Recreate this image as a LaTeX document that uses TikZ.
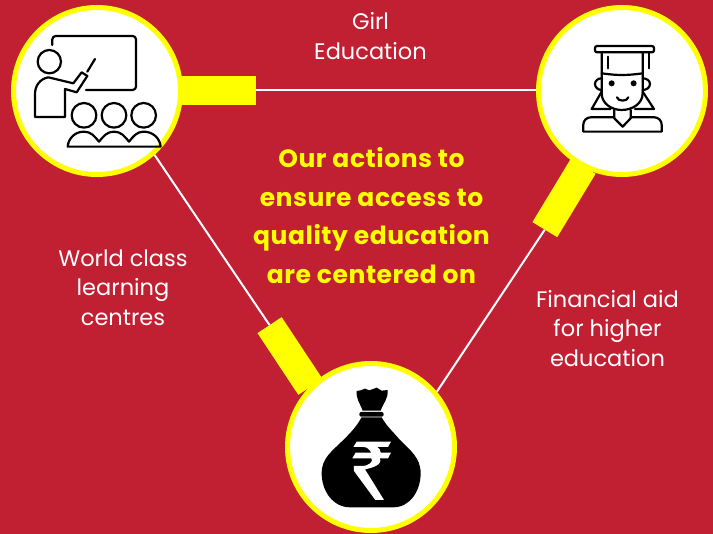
\documentclass[tikz,border=0pt]{standalone}
\usepackage{fontspec}
\setmainfont{Poppins}
\definecolor{pagered}{HTML}{C12033}
\definecolor{ringyellow}{HTML}{FFFF00}
\tikzset{
    iconcircle/.style={draw=ringyellow, line width=5pt, fill=white, circle, minimum size=167pt, inner sep=0pt},
    handle/.style={fill=ringyellow, rectangle, minimum width=74pt, minimum height=29pt, inner sep=0pt},
    link/.style={draw=white, line width=2pt},
    sidelabel/.style={white, align=center, inner sep=0pt, font=\fontsize{22.5}{29.5}\selectfont},
    centerlabel/.style={ringyellow, align=center, inner sep=0pt, font=\fontsize{25}{38.5}\selectfont\bfseries\addfontfeature{LetterSpace=2.2}},
    iconline/.style={draw=black, line width=2.2pt, line join=round, line cap=round},
}
\begin{document}
\begin{tikzpicture}[x=1pt, y=-1pt]
    \fill[pagered] (0,0) rectangle (713,534);
    \useasboundingbox (0,0) rectangle (713,534);

    \node[handle] (teacherbar) at (218.5,90.5) {};
    \node[handle, rotate=58.8] (graduatebar) at (564,198) {};
    \node[handle, rotate=-56.5] (moneybar) at (290,356) {};

    \node[iconcircle] (teacher) at (97,91) {};
    \node[iconcircle] (graduate) at (622,91) {};
    \node[iconcircle] (money) at (371,447) {};

    \draw[link] (teacherbar.east) -- (teacherbar.east -| graduate.west);
    \draw[link] (graduatebar.west) -- (money.40.7);
    \draw[link] (teacher.-48.4) -- (moneybar.west);

    \node[sidelabel] (girl) at (370.5,36) {Girl\\Education};
    \node[sidelabel] (world) at (123,287.5) {World class\\learning\\centres};
    \node[sidelabel] (financial) at (607.5,328.5) {Financial aid\\for higher\\education};
    \node[centerlabel] (actions) at (371.5,215.5) {Our actions to\\ensure access to\\quality education\\are centered on};

    % teacher and pupils
    \begin{scope}[shift={(0,20)}, x=0.3333pt, y=-0.3333pt, iconline]
        \draw (157,75) -- (157,58) to[out=90,in=180] (167,48) -- (398,48) to[out=0,in=90] (408,58)
            -- (408,200) to[out=-90,in=0] (398,210) -- (258,210);
        \draw (148,125) circle[radius=35];
        \draw (105,291) -- (195,291) -- (195,207) -- (230,217) -- (262,168) -- (245,157) -- (220,190)
            -- (145,172) to[out=190,in=90] (105,222) -- cycle;
        \draw (262,155) -- (285,117);
        \foreach \headx in {252,342,431} {
            \draw (\headx,286) circle[radius=37];
        }
        \draw (203,380) to[out=85,in=180] (252,335) to[out=0,in=130] (297,365) to[out=50,in=180] (342,335)
            to[out=0,in=130] (387,365) to[out=50,in=180] (431,335) to[out=0,in=95] (482,380) -- cycle;
    \end{scope}

    % graduate
    \begin{scope}[shift={(520,10)}, x=0.3333pt, y=-0.3333pt, iconline]
        \draw[rounded corners=2pt] (225,108) rectangle (402,127);
        \draw (245,127) -- (245,250) to[out=-90,in=180] (305,300) to[out=0,in=-90] (368,250) -- (368,127);
        \draw (245,190) to[out=-8,in=188] (368,190);
        \draw (388,127) -- (388,175);
        \draw (265,140) -- (265,175);
        \fill (275,220) circle[radius=9];
        \fill (341,220) circle[radius=9];
        \draw (291,262) to[out=-80,in=-100] (325,262);
        \draw (245,205) to[out=180,in=90] (225,222) to[out=-90,in=180] (245,240);
        \draw (368,205) to[out=0,in=90] (390,222) to[out=-90,in=0] (368,240);
        \draw (245,245) -- (215,297) -- (272,297);
        \draw (368,245) -- (402,297) -- (345,297);
        \draw (283,300) -- (283,325) -- (308,350) -- (332,325) -- (332,300);
        \draw (283,322) -- (212,322) to[out=180,in=90] (190,344) -- (190,365) -- (425,365) -- (425,344)
            to[out=90,in=0] (403,322) -- (332,322);
    \end{scope}

    % money bag
    \begin{scope}[shift={(250,310)}, x=0.3333pt, y=-0.3333pt]
        \fill[black] (320,243) -- (332,241) -- (345,236) -- (358,241) -- (380,233) -- (395,242) -- (413,240)
            to[out=-85,in=70] (392,302) -- (338,302) to[out=110,in=-95] cycle;
        \fill[black, rounded corners=2pt] (328,306) rectangle (401,320);
        \fill[black] (335,322) -- (395,322) to[out=-60,in=130] (450,390) to[out=-45,in=90] (512,490)
            to[out=-90,in=0] (430,592) -- (300,592) to[out=180,in=-90] (215,490) to[out=90,in=225] (280,390)
            to[out=45,in=-120] cycle;
        \fill[white] (320,395) -- (423,395) -- (414,411) -- (382,411) to[out=-30,in=90] (392,428) -- (423,428)
            -- (414,445) -- (389,445) to[out=-60,in=10] (345,478) -- (402,570) -- (376,570) -- (312,483)
            -- (312,468) -- (340,468) to[out=0,in=-45] (364,445) -- (307,445) -- (317,428) -- (364,428)
            to[out=120,in=0] (340,411) -- (310,411) -- cycle;
    \end{scope}
\end{tikzpicture}
\end{document}
